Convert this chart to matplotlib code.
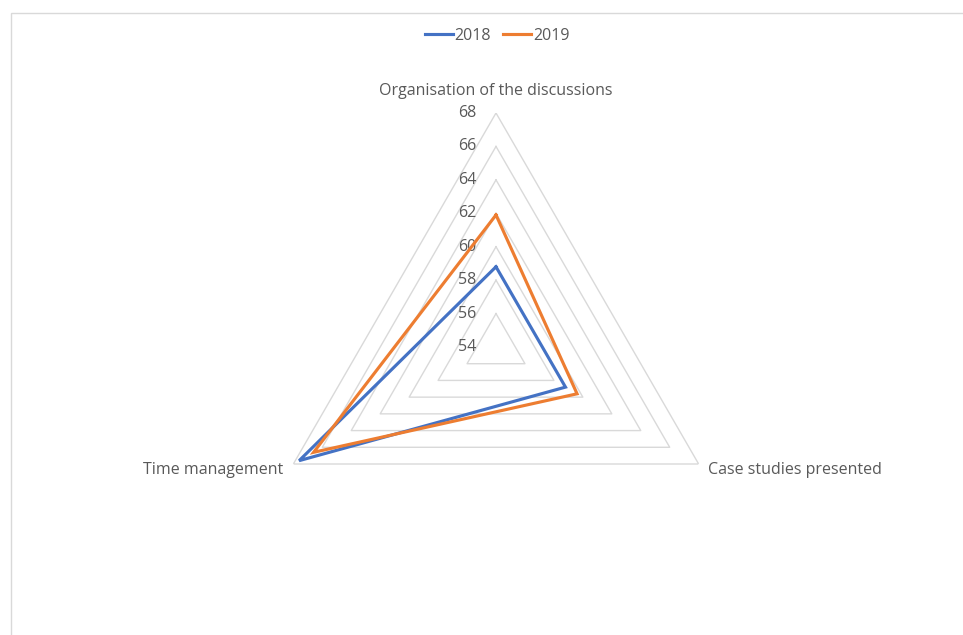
import numpy as np
import matplotlib.pyplot as plt
from matplotlib.patches import Rectangle

# Datos
categorias = ["Organisation of the discussions", "Case studies presented", "Time management"]
valores_2018 = [58.8, 58.8, 67.6]
valores_2019 = [61.9, 59.6, 66.6]
series = ["2018", "2019"]
niveles = [54, 56, 58, 60, 62, 64, 66, 68]

azul = "#4472C4"
naranja = "#ED7D31"
gris_texto = "#595959"
gris_rejilla = "#D9D9D9"

plt.rcParams['font.family'] = ['Open Sans', 'DejaVu Sans']

W, H = 963, 635
fig = plt.figure(figsize=(W / 100, H / 100), dpi=100)

# Marco del gráfico
fig.patches.append(Rectangle((11 / W, -0.01), 1.0, (H - 12.5) / H + 0.01,
                             transform=fig.transFigure, fill=False,
                             edgecolor=gris_rejilla, linewidth=1.0))

# Ejes polares centrados en el radar
cx, cy, r = 496, 347, 234
ax = fig.add_axes([(cx - r) / W, (H - cy - r) / H, 2 * r / W, 2 * r / H],
                  projection='polar')
ax.set_theta_offset(np.pi / 2)
ax.set_theta_direction(-1)
ax.set_ylim(niveles[0], niveles[-1])
ax.grid(False)
ax.spines['polar'].set_visible(False)
ax.set_xticks([])
ax.set_yticks([])
ax.patch.set_alpha(0)

angulos = np.linspace(0, 2 * np.pi, len(categorias), endpoint=False)
ang_cerrado = np.append(angulos, angulos[0])

# Rejilla triangular
for nivel in niveles[1:]:
    ax.plot(ang_cerrado, [nivel] * len(ang_cerrado), color=gris_rejilla,
            linewidth=1.0, zorder=1)

# Etiquetas del eje radial
for nivel in niveles:
    ax.annotate(str(nivel), xy=(0, nivel), xytext=(-14, 0),
                textcoords='offset points', ha='right', va='center',
                fontsize=11.5, color=gris_texto)

# Series
for nombre, vals, color in zip(series, [valores_2018, valores_2019], [azul, naranja]):
    ax.plot(ang_cerrado, vals + vals[:1], color=color, linewidth=2.25,
            label=nombre, zorder=3, solid_joinstyle='miter')

# Nombres de las categorías
offsets = [(0, 10), (6.5, -4), (-7, -4)]
alineacion = [('center', 'bottom'), ('left', 'center'), ('right', 'center')]
for ang, nombre, off, (ha, va) in zip(angulos, categorias, offsets, alineacion):
    ax.annotate(nombre, xy=(ang, niveles[-1]), xytext=off,
                textcoords='offset points', ha=ha, va=va,
                fontsize=11.5, color=gris_texto, annotation_clip=False)

leg = fig.legend(loc='center', bbox_to_anchor=(497 / W, 1 - 36 / H), ncol=2,
                 frameon=False, fontsize=11.5, handlelength=1.75,
                 handletextpad=0.1, columnspacing=0.8)
for t in leg.get_texts():
    t.set_color(gris_texto)

fig.savefig("out.png", dpi=100)
